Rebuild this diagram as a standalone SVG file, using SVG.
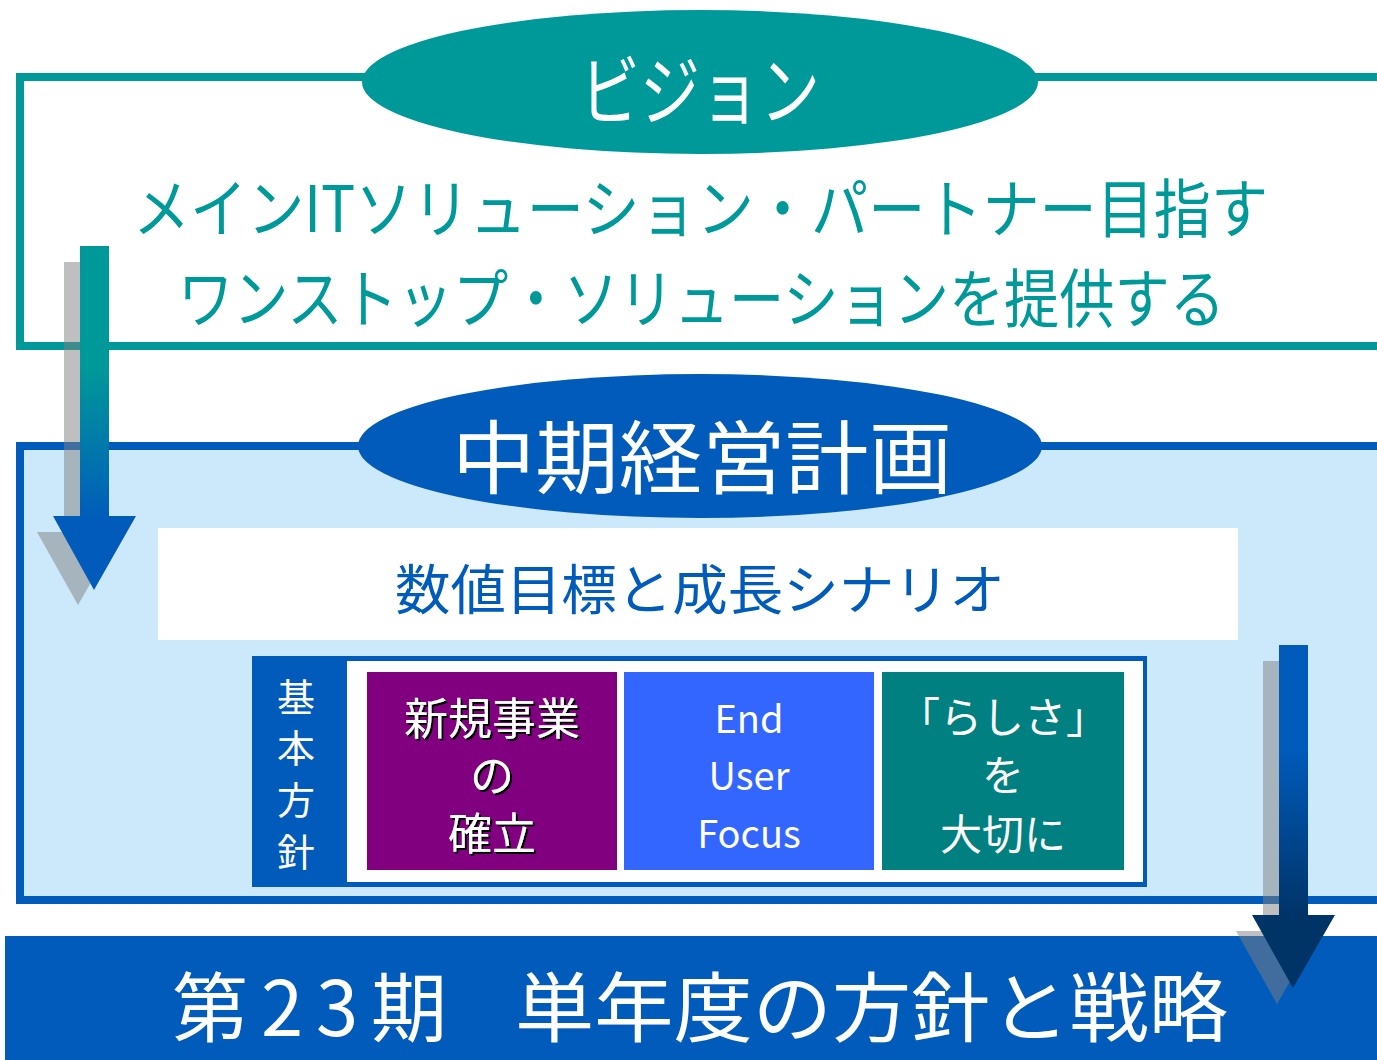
<svg xmlns="http://www.w3.org/2000/svg" width="1377" height="1060" viewBox="0 0 1377 1060">
<style>
.jp{font-family:"Noto Sans CJK JP","Noto Sans",sans-serif;}
.w{fill:#ffffff;}
.teal{fill:#009999;}
.blue{fill:#005BBB;}
.sh{fill:#808080;fill-opacity:0.5;}
</style>
<defs>
<linearGradient id="gL" gradientUnits="userSpaceOnUse" x1="0" y1="246" x2="0" y2="590">
<stop offset="0" stop-color="#009999"/>
<stop offset="0.35" stop-color="#009999"/>
<stop offset="0.8" stop-color="#005BBB"/>
<stop offset="1" stop-color="#005BBB"/>
</linearGradient>
<linearGradient id="gR" gradientUnits="userSpaceOnUse" x1="0" y1="645" x2="0" y2="988">
<stop offset="0" stop-color="#005BBB"/>
<stop offset="0.3" stop-color="#005BBB"/>
<stop offset="0.8" stop-color="#003366"/>
<stop offset="1" stop-color="#003366"/>
</linearGradient>
<filter id="ds" x="-5%" y="-5%" width="115%" height="115%">
<feDropShadow dx="2" dy="2" stdDeviation="0" flood-color="#000000" flood-opacity="1"/>
</filter>
</defs>

<g id="vision">
<rect x="20" y="77" width="1400" height="269" fill="#ffffff" stroke="#009999" stroke-width="8"/>
<ellipse cx="700" cy="82" rx="338" ry="72" fill="#009999"/>
<text class="jp w" x="700" y="119" font-size="76" text-anchor="middle" textLength="240" lengthAdjust="spacingAndGlyphs">ビジョン</text>
<text class="jp teal" x="133" y="232" font-size="64" textLength="1135" lengthAdjust="spacingAndGlyphs">メインITソリューション・パートナー目指す</text>
<text class="jp teal" x="178" y="322" font-size="64" textLength="1047" lengthAdjust="spacingAndGlyphs">ワンストップ・ソリューションを提供する</text>
</g>

<g id="midterm">
<rect x="20" y="446" width="1400" height="454" fill="#CCE9FB" stroke="#005BBB" stroke-width="8"/>
<ellipse cx="700" cy="446" rx="342" ry="72" fill="#005BBB"/>
<text class="jp w" x="702" y="487" font-size="80" text-anchor="middle" textLength="500" lengthAdjust="spacingAndGlyphs">中期経営計画</text>
</g>

<g id="targets">
<rect x="158" y="528" width="1080" height="112" fill="#ffffff"/>
<text class="jp blue" x="700" y="610" font-size="54" text-anchor="middle" textLength="610" lengthAdjust="spacingAndGlyphs">数値目標と成長シナリオ</text>
</g>

<g id="policy">
<rect x="252" y="656" width="895" height="231" fill="#005BBB"/>
<rect x="347" y="661" width="796" height="221" fill="#ffffff"/>
<g class="jp w" font-size="38" text-anchor="middle">
<text x="296" y="711">基</text>
<text x="296" y="762">本</text>
<text x="296" y="814">方</text>
<text x="296" y="866">針</text>
</g>
</g>

<g id="policy1">
<rect x="367" y="672" width="250" height="198" fill="#800080"/>
<g class="jp w" font-size="44" text-anchor="middle" filter="url(#ds)">
<text x="492" y="735">新規事業</text>
<text x="492" y="792">の</text>
<text x="492" y="850">確立</text>
</g>
</g>

<g id="policy2">
<rect x="624" y="672" width="250" height="198" fill="#3366FF"/>
<g class="jp w" font-size="38" text-anchor="middle">
<text x="749" y="733">End</text>
<text x="749" y="790">User</text>
<text x="749" y="848">Focus</text>
</g>
</g>

<g id="policy3">
<rect x="882" y="672" width="242" height="198" fill="#008080"/>
<g class="jp w" font-size="42" text-anchor="middle">
<text x="1003" y="733">「らしさ」</text>
<text x="1003" y="791">を</text>
<text x="1003" y="850">大切に</text>
</g>
</g>

<g id="term23">
<rect x="5" y="936" width="1380" height="130" fill="#005BBB"/>
<text class="jp w" y="1036" font-size="76"><tspan x="172" textLength="275" lengthAdjust="spacing">第23期</tspan><tspan>　</tspan><tspan x="515" textLength="713" lengthAdjust="spacingAndGlyphs">単年度の方針と戦略</tspan></text>
</g>

<g id="connectors">
<path class="sh" d="M64 262 H93 V532 H120 L78 605 L37 532 H64 Z"/>
<path d="M80 246 H109 V516 H136 L94 590 L53 516 H80 Z" fill="url(#gL)"/>
<path class="sh" d="M1263 661 H1292 V931 H1319 L1277 1004 L1236 931 H1263 Z"/>
<path d="M1279 645 H1308 V915 H1335 L1293 988 L1252 915 H1279 Z" fill="url(#gR)"/>
</g>
</svg>
